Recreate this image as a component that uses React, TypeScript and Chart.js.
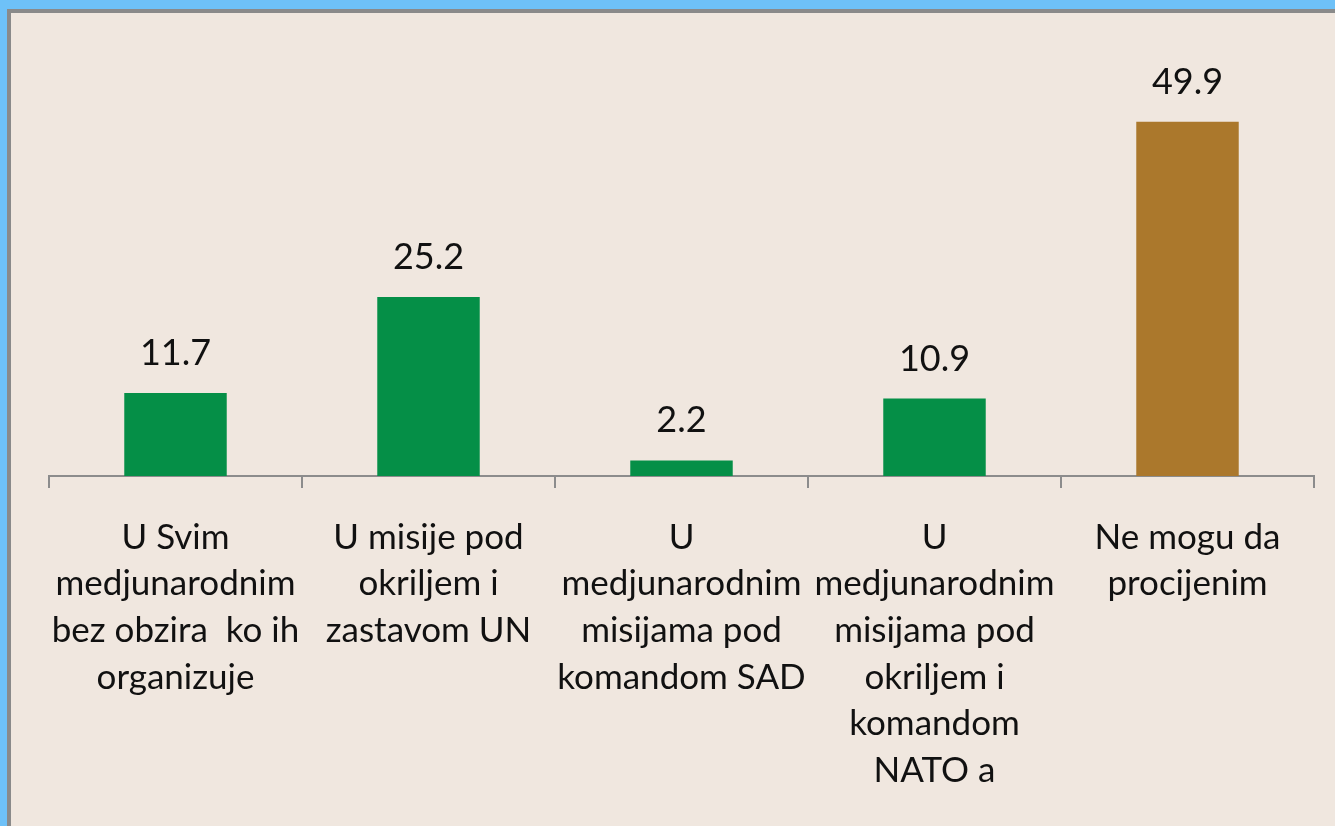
import React, { useEffect, useRef } from "react";
import { Chart, registerables } from "chart.js";

Chart.register(...registerables);

const categories: string[][] = [
  ["U Svim", "medjunarodnim", "bez obzira  ko ih", "organizuje"],
  ["U misije pod", "okriljem i", "zastavom UN"],
  ["U", "medjunarodnim", "misijama pod", "komandom SAD"],
  ["U", "medjunarodnim", "misijama pod", "okriljem i", "komandom", "NATO a"],
  ["Ne mogu da", "procijenim"],
];
const values: number[] = [11.7, 25.2, 2.2, 10.9, 49.9];
const barColors: string[] = ["#058F47", "#058F47", "#058F47", "#058F47", "#AB782C"];

const FONT = "Lato, 'Open Sans', sans-serif";

const valueLabels = {
  id: "valueLabels",
  afterDatasetsDraw(chart: any) {
    const ctx = chart.ctx;
    const meta = chart.getDatasetMeta(0);
    ctx.save();
    ctx.font = `36px ${FONT}`;
    ctx.fillStyle = "#111";
    ctx.textAlign = "center";
    ctx.textBaseline = "alphabetic";
    meta.data.forEach((bar: any, i: number) => {
      ctx.fillText(values[i].toFixed(1), bar.x, bar.y - 28);
    });
    ctx.restore();
  },
};

export default function App() {
  const ref = useRef<HTMLCanvasElement | null>(null);
  useEffect(() => {
    if (!ref.current) return;
    const chart = new Chart(ref.current, {
      type: "bar",
      data: {
        labels: categories,
        datasets: [
          {
            data: values,
            backgroundColor: barColors,
            borderWidth: 0,
            categoryPercentage: 1,
            barPercentage: 0.405,
          },
        ],
      },
      options: {
        animation: false,
        responsive: false,
        maintainAspectRatio: false,
        layout: { padding: { left: 49, right: 21, top: 50, bottom: 0 } },
        plugins: { legend: { display: false }, tooltip: { enabled: false } },
        scales: {
          x: {
            grid: {
              display: true,
              offset: true,
              drawOnChartArea: false,
              drawTicks: true,
              tickLength: 12,
              color: "#8C8C8C",
              lineWidth: 2,
            },
            border: { display: true, color: "#8C8C8C", width: 2 },
            ticks: {
              color: "#111",
              font: { family: FONT, size: 35, lineHeight: 1.333 },
              padding: 26,
              maxRotation: 0,
              minRotation: 0,
              autoSkip: false,
            },
            afterFit(scale: any) {
              scale.height = 350;
            },
          },
          y: {
            display: false,
            min: 0,
            max: 60,
          },
        },
      },
      plugins: [valueLabels],
    });
    return () => chart.destroy();
  }, []);
  return (
    <div style={{ position: "fixed", left: 0, top: 0, width: 1335, height: 826, background: "#6EC1F8", overflow: "hidden" }}>
      <div style={{ position: "absolute", left: 7, top: 9, width: 1335, height: 826, background: "#8A8A8A" }} />
      <div style={{ position: "absolute", left: 11, top: 13, width: 1335, height: 826, background: "#F0E7DF" }} />
      <canvas ref={ref} width={1335} height={826} style={{ position: "absolute", left: 0, top: 0, width: 1335, height: 826 }} />
    </div>
  );
}
